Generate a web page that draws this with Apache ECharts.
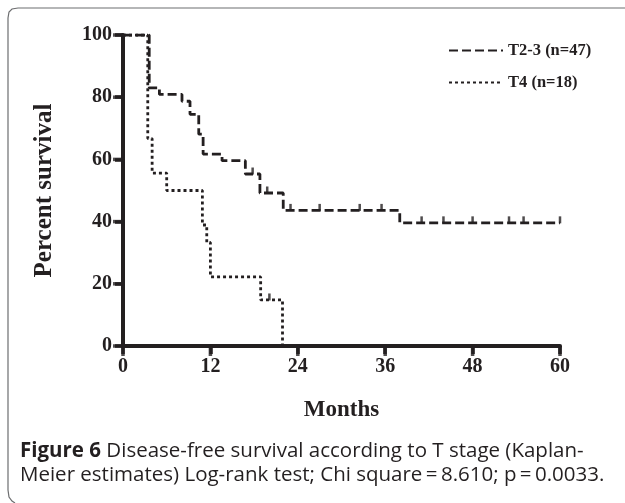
<!DOCTYPE html>
<html>
<head>
<meta charset="utf-8">
<script src="https://cdn.jsdelivr.net/npm/echarts@6/dist/echarts.min.js"></script>
<style>
html,body{margin:0;padding:0;background:#fff;}
#chart{width:625px;height:503px;}
</style>
</head>
<body>
<div id="chart"></div>
<script>
// ---- data ----
var xTicks = [0, 12, 24, 36, 48, 60];
var yTicks = [0, 20, 40, 60, 80, 100];
var seriesNames = ['T2-3 (n=47)', 'T4 (n=18)'];
var t23Months = [0, 3.6, 5.0, 8.1, 9.2, 10.4, 11.0, 13.6, 16.8, 18.8, 22.0, 38.0, 60];
var t23Surv   = [100, 83.0, 80.9, 78.7, 74.5, 68.1, 61.7, 59.6, 55.3, 49.2, 43.6, 39.6, 39.6];
var t23CensorMonths = [17.8, 19.8, 23, 27, 32.5, 35.5, 41, 44, 48, 53, 55, 60];
var t4Months = [0, 3.4, 4.0, 6.0, 10.9, 11.5, 12.0, 18.9, 21.9];
var t4Surv   = [100, 66.7, 55.6, 50.0, 38.9, 33.3, 22.2, 14.8, 0];
var t4CensorMonths = [20.1];
var captionBold = 'Figure 6';
var captionLine1 = ' Disease-free survival according to T stage (Kaplan-';
var captionLine2 = 'Meier estimates) Log-rank test; Chi square\u2009=\u20098.610; p\u2009=\u20090.0033.';

function pairs(xs, ys){ return xs.map(function(x,i){ return [x, ys[i]]; }); }
function stepValue(xs, ys, t){ var v = ys[0]; for (var i=0;i<xs.length;i++){ if (xs[i] <= t) v = ys[i]; } return v; }
function censors(cx, xs, ys){ return cx.map(function(t){ return [t, stepValue(xs, ys, t)]; }); }

var ink = '#231f20';
var serif = '"Liberation Serif", "Times New Roman", serif';
var sans = '"Open Sans", sans-serif';
var TICK_LEN = 8;

var chart = echarts.init(document.getElementById('chart'), null, {renderer:'canvas'});
chart.setOption({
  animation: false,
  backgroundColor: '#fff',
  grid: {left: 123, right: 65, top: 35, bottom: 157},
  legend: {
    orient: 'vertical', left: 443, top: 37, itemWidth: 54, itemHeight: 12, itemGap: 15,
    data: seriesNames,
    itemStyle: {opacity: 0},
    textStyle: {fontFamily: serif, fontWeight: 'bold', fontSize: 16.5, color: ink}
  },
  xAxis: {
    type: 'value', min: 0, max: 60, interval: 12,
    name: 'Months', nameLocation: 'middle', nameGap: 53,
    nameTextStyle: {fontFamily: serif, fontWeight: 'bold', fontSize: 23, color: ink},
    axisLine: {show: true, lineStyle: {color: ink, width: 4}},
    axisTick: {show: true, inside: false, length: TICK_LEN, lineStyle: {color: ink, width: 3.5}},
    axisLabel: {show: true, fontFamily: serif, fontWeight: 'bold', fontSize: 20, color: ink, margin: 11,
      formatter: function(v){ return xTicks.indexOf(v) >= 0 ? String(v) : ''; }},
    splitLine: {show: false}
  },
  yAxis: {
    type: 'value', min: 0, max: 100, interval: 20,
    name: 'Percent survival', nameLocation: 'middle', nameGap: 66, nameRotate: 90,
    nameTextStyle: {fontFamily: serif, fontWeight: 'bold', fontSize: 25, color: ink},
    axisLine: {show: true, lineStyle: {color: ink, width: 4}},
    axisTick: {show: true, inside: false, length: TICK_LEN, lineStyle: {color: ink, width: 3.5}},
    axisLabel: {show: true, fontFamily: serif, fontWeight: 'bold', fontSize: 20, color: ink, margin: 11,
      formatter: function(v){ return yTicks.indexOf(v) >= 0 ? String(v) : ''; }},
    splitLine: {show: false}
  },
  series: [
    {name: seriesNames[0], type: 'line', step: 'end', symbol: 'none', data: pairs(t23Months, t23Surv),
     lineStyle: {color: ink, width: 2.8, type: [9, 4]}, itemStyle: {color: ink}},
    {name: seriesNames[1], type: 'line', step: 'end', symbol: 'none', data: pairs(t4Months, t4Surv),
     lineStyle: {color: ink, width: 2.8, type: [3, 3]}, itemStyle: {color: ink}},
    {name: 'censor-a', type: 'scatter', symbol: 'rect', symbolSize: [2.5, 7], symbolOffset: [0, -3],
     data: censors(t23CensorMonths, t23Months, t23Surv), itemStyle: {color: ink}},
    {name: 'censor-b', type: 'scatter', symbol: 'rect', symbolSize: [2.5, 7], symbolOffset: [0, -3],
     data: censors(t4CensorMonths, t4Months, t4Surv), itemStyle: {color: ink}},
    {name: 'x-ticks', type: 'scatter', clip: false, silent: true, z: 10,
     symbol: 'rect', symbolSize: [3.5, TICK_LEN + 2], symbolOffset: [0, TICK_LEN / 2 + 1],
     data: xTicks.map(function(v){ return [v, 0]; }), itemStyle: {color: ink}},
    {name: 'y-ticks', type: 'scatter', clip: false, silent: true, z: 10,
     symbol: 'rect', symbolSize: [TICK_LEN + 2, 3.5], symbolOffset: [-(TICK_LEN / 2 + 1), 0],
     data: yTicks.map(function(v){ return [0, v]; }), itemStyle: {color: ink}}
  ],
  graphic: [
    {type: 'polyline', shape: {points: [[625, 8], [18, 8], [12, 9], [9, 12], [8, 18], [8, 490], [9, 497], [12, 501], [15, 503]]},
     style: {stroke: '#6d6e70', lineWidth: 1.2, fill: null}},
    {type: 'text', left: 20, top: 439, style: {
      text: '{b|' + captionBold + '}' + captionLine1 + '\n' + captionLine2,
      font: '20.5px ' + sans, fill: ink, lineHeight: 24,
      rich: {b: {fontWeight: 'bold', fontFamily: sans, fontSize: 20.5, fill: ink}}
    }}
  ]
});
</script>
</body>
</html>
